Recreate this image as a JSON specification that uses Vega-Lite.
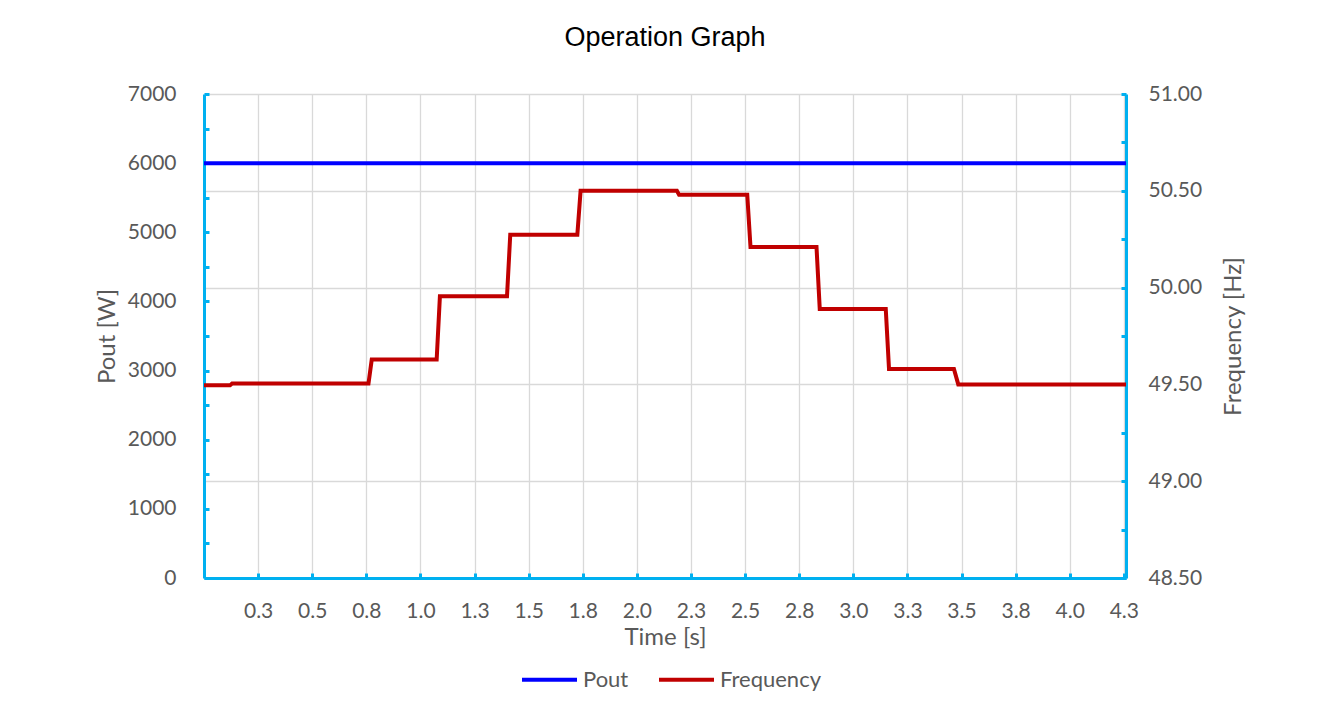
{
  "$schema": "https://vega.github.io/schema/vega-lite/v6.json",
  "width": 922,
  "height": 484,
  "autosize": {"type": "none"},
  "padding": {"left": 204, "top": 94, "right": 212, "bottom": 146},
  "background": "white",
  "title": {
    "text": "Operation Graph",
    "font": "Liberation Sans",
    "fontSize": 27,
    "fontWeight": "normal",
    "color": "#000000",
    "anchor": "middle",
    "frame": "group",
    "baseline": "alphabetic",
    "offset": 10
  },
  "datasets": {
    "pout": [
      {"t": 0.0, "pout": 6000},
      {"t": 1.0, "pout": 6000},
      {"t": 2.0, "pout": 6000},
      {"t": 3.0, "pout": 6000},
      {"t": 4.26, "pout": 6000}
    ],
    "freq": [
      {"t": 0.0, "freq": 49.495},
      {"t": 0.12, "freq": 49.495},
      {"t": 0.13, "freq": 49.505},
      {"t": 0.76, "freq": 49.505},
      {"t": 0.775, "freq": 49.628},
      {"t": 1.075, "freq": 49.628},
      {"t": 1.09, "freq": 49.955},
      {"t": 1.4, "freq": 49.955},
      {"t": 1.415, "freq": 50.273},
      {"t": 1.725, "freq": 50.273},
      {"t": 1.74, "freq": 50.5},
      {"t": 2.185, "freq": 50.5},
      {"t": 2.195, "freq": 50.48},
      {"t": 2.51, "freq": 50.48},
      {"t": 2.525, "freq": 50.21},
      {"t": 2.83, "freq": 50.21},
      {"t": 2.845, "freq": 49.89},
      {"t": 3.15, "freq": 49.89},
      {"t": 3.165, "freq": 49.58},
      {"t": 3.465, "freq": 49.58},
      {"t": 3.485, "freq": 49.5},
      {"t": 4.26, "freq": 49.5}
    ]
  },
  "encoding": {
    "x": {
      "field": "t",
      "type": "quantitative",
      "scale": {"domain": [0, 4.26], "nice": false, "zero": false},
      "axis": {
        "title": "Time [s]",
        "values": [0.25, 0.5, 0.75, 1.0, 1.25, 1.5, 1.75, 2.0, 2.25, 2.5, 2.75, 3.0, 3.25, 3.5, 3.75, 4.0, 4.25],
        "format": ".1f",
        "grid": true,
        "labelPadding": 27,
        "titlePadding": 4,
        "labelFlush": false
      }
    }
  },
  "layer": [
    {
      "data": {"name": "pout"},
      "mark": {"type": "line", "strokeWidth": 4, "interpolate": "linear"},
      "encoding": {
        "y": {
          "field": "pout",
          "type": "quantitative",
          "scale": {"domain": [0, 7000], "nice": false},
          "axis": {
            "title": "Pout [W]",
            "orient": "left",
            "values": [0, 500, 1000, 1500, 2000, 2500, 3000, 3500, 4000, 4500, 5000, 5500, 6000, 6500, 7000],
            "labelExpr": "datum.value % 1000 == 0 ? format(datum.value, 'd') : ''",
            "grid": false,
            "labelPadding": 33,
            "titlePadding": 8
          }
        },
        "color": {
          "datum": "Pout",
          "scale": {"domain": ["Pout", "Frequency"], "range": ["#0000FF", "#C00000"]},
          "legend": {"title": null, "orient": "none", "legendX": 316, "legendY": 556}
        }
      }
    },
    {
      "data": {"name": "freq"},
      "mark": {"type": "line", "strokeWidth": 4, "interpolate": "linear"},
      "encoding": {
        "y": {
          "field": "freq",
          "type": "quantitative",
          "scale": {"domain": [48.5, 51], "nice": false, "zero": false},
          "axis": {
            "title": "Frequency [Hz]",
            "orient": "right",
            "values": [48.5, 48.75, 49, 49.25, 49.5, 49.75, 50, 50.25, 50.5, 50.75, 51],
            "labelExpr": "(datum.value * 2) % 1 == 0 ? format(datum.value, '.2f') : ''",
            "grid": true,
            "gridOpacity": {"condition": {"test": "(datum.value * 2) % 1 == 0", "value": 1}, "value": 0},
            "labelPadding": 27,
            "titlePadding": 20,
            "titleAngle": 270,
            "titleBaseline": "top"
          }
        },
        "color": {"datum": "Frequency"}
      }
    }
  ],
  "resolve": {"scale": {"y": "independent"}},
  "config": {
    "view": {"stroke": null},
    "axis": {
      "labelFont": "Lato",
      "labelFontSize": 21,
      "labelColor": "#595959",
      "titleFont": "Lato",
      "titleFontSize": 24,
      "titleFontWeight": "normal",
      "titleColor": "#595959",
      "domainColor": "#00B0F0",
      "domainWidth": 3,
      "tickColor": "#00B0F0",
      "tickWidth": 3,
      "tickSize": -5,
      "gridColor": "#D9D9D9",
      "gridWidth": 1.3
    },
    "legend": {
      "direction": "horizontal",
      "symbolType": "stroke",
      "symbolSize": 3025,
      "symbolStrokeWidth": 4,
      "labelFont": "Lato",
      "labelFontSize": 22,
      "labelColor": "#595959",
      "labelOffset": 4,
      "columnPadding": 22
    }
  }
}
